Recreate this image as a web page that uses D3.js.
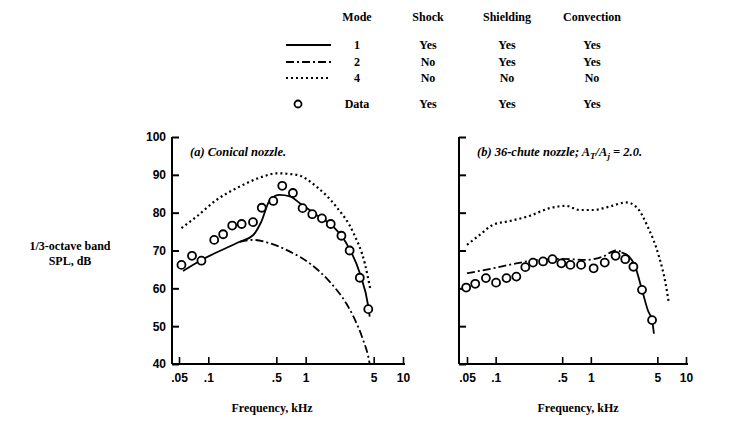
<!DOCTYPE html>
<html>
<head>
<meta charset="utf-8">
<script src="https://cdn.jsdelivr.net/npm/d3@7"></script>
<style>
  body { margin: 0; background: #fff; }
  svg { display: block; font-family: "Liberation Serif", "DejaVu Serif", serif; font-weight: bold; }
</style>
</head>
<body>
<div id="chart"></div>
<script>
// legend table
const legendHeaders = ["Mode", "Shock", "Shielding", "Convection"];
const legendModes = ["1", "2", "4", "Data"];
const shockCol = ["Yes", "No", "No", "Yes"];
const shieldingCol = ["Yes", "Yes", "No", "Yes"];
const convectionCol = ["Yes", "Yes", "No", "Yes"];

const freqTicks = [0.05, 0.1, 0.5, 1, 5, 10];
const freqTickLabels = [".05", ".1", ".5", "1", "5", "10"];
const splTicks = [40, 50, 60, 70, 80, 90, 100];

// (a) conical nozzle
const conicalDataFreq = [0.053, 0.068, 0.085, 0.115, 0.142, 0.176, 0.22, 0.288, 0.354, 0.465, 0.575, 0.74, 0.93, 1.17, 1.47, 1.81, 2.33, 2.83, 3.6, 4.4];
const conicalDataSpl = [66.2, 68.6, 67.3, 72.8, 74.3, 76.6, 77.0, 77.5, 81.3, 83.1, 87.1, 85.2, 81.2, 79.6, 78.5, 77.0, 73.9, 70.0, 62.8, 54.5];
const conicalMode1Freq = [0.055, 0.085, 0.21, 0.29, 0.35, 0.43, 0.54, 0.69, 0.87, 1.29, 1.92, 2.62, 3.6, 4.4, 4.55];
const conicalMode1Spl = [64.6, 67.5, 72.3, 74.1, 77.6, 83.4, 84.7, 84.3, 82.5, 79.4, 76.3, 71.9, 64, 55.2, 52.5];
const conicalMode2Freq = [0.21, 0.29, 0.43, 0.69, 1.1, 1.8, 2.6, 3.1, 3.9, 4.4, 4.55];
const conicalMode2Spl = [72.3, 72.8, 71.9, 69.7, 66.6, 61.5, 56.1, 52.5, 46.3, 41.9, 40];
const conicalMode4Freq = [0.053, 0.076, 0.122, 0.21, 0.37, 0.5, 0.81, 1.29, 2.06, 3.1, 4.05, 4.6];
const conicalMode4Spl = [75.9, 79.0, 83.4, 86.9, 89.6, 90.4, 90.0, 86.9, 81.6, 74.6, 66.6, 60.0];

// (b) 36-chute nozzle
const chuteDataFreq = [0.049, 0.061, 0.079, 0.101, 0.13, 0.165, 0.205, 0.247, 0.315, 0.395, 0.49, 0.61, 0.79, 1.07, 1.4, 1.82, 2.3, 2.8, 3.45, 4.4];
const chuteDataSpl = [60.2, 61.2, 62.7, 61.5, 62.7, 63.1, 65.6, 66.8, 67.1, 67.7, 66.6, 66.2, 66.2, 65.3, 66.8, 68.6, 67.7, 65.7, 59.6, 51.6];
const chuteMode1Freq = [2.1, 2.5, 2.9, 3.45, 4.0, 4.4, 4.6];
const chuteMode1Spl = [69.5, 68.5, 66, 59.6, 54, 51.6, 48];
const chuteMode2Freq = [0.05, 0.094, 0.165, 0.27, 0.5, 0.9, 1.34, 1.85, 2.1];
const chuteMode2Spl = [64.0, 65.3, 66.6, 67.5, 67.8, 67.5, 68.4, 70.0, 69.6];
const chuteMode4Freq = [0.05, 0.068, 0.094, 0.141, 0.23, 0.37, 0.55, 0.76, 1.05, 1.57, 2.35, 2.98, 3.96, 5.2, 6.1, 6.6];
const chuteMode4Spl = [71.5, 74.1, 76.8, 77.8, 79.2, 81.2, 81.8, 80.7, 80.7, 81.6, 82.7, 81.6, 76.3, 68.4, 61.3, 56.1];

const width = 734;
const height = 423;

const lineStyles = {
  mode1: null,
  mode2: "8,3,2,3",
  mode4: "2,3",
};

const svg = d3
  .select("#chart")
  .append("svg")
  .attr("width", width)
  .attr("height", height)
  .attr("viewBox", `0 0 ${width} ${height}`);

const yScale = d3.scaleLinear().domain([40, 100]).range([364, 137]);

function zip(xs, ys) {
  return xs.map((x, i) => ({ f: x, spl: ys[i] }));
}

function drawPanel(opts) {
  const x = d3.scaleLog().domain([0.05, 10]).range([opts.x05, opts.x10]);
  const g = svg.append("g");

  // spines
  g.append("line")
    .attr("x1", opts.axisX).attr("x2", opts.axisX)
    .attr("y1", yScale(100)).attr("y2", yScale(40))
    .attr("stroke", "#000").attr("stroke-width", 2);
  g.append("line")
    .attr("x1", opts.axisX).attr("x2", opts.x10 + 2)
    .attr("y1", yScale(40)).attr("y2", yScale(40))
    .attr("stroke", "#000").attr("stroke-width", 2);

  const yAxis = g.append("g")
    .attr("transform", `translate(${opts.axisX},0)`)
    .call(
      d3.axisLeft(yScale)
        .tickValues(splTicks)
        .tickSizeInner(-7)
        .tickSizeOuter(0)
        .tickPadding(6)
        .tickFormat((d) => (opts.yLabels ? d : ""))
    );
  yAxis.select(".domain").remove();
  yAxis.selectAll("line").attr("stroke-width", 2);
  yAxis.selectAll("text").attr("font-size", 12).attr("font-family", null);

  const xAxis = g.append("g")
    .attr("transform", `translate(0,${yScale(40)})`)
    .call(
      d3.axisBottom(x)
        .tickValues(freqTicks)
        .tickSizeInner(-7)
        .tickSizeOuter(0)
        .tickPadding(9)
        .tickFormat((d, i) => freqTickLabels[i])
    );
  xAxis.select(".domain").remove();
  xAxis.selectAll("line").attr("stroke-width", 1.6);
  xAxis.selectAll("text").attr("font-size", 12).attr("font-family", null);

  const line = d3.line()
    .x((d) => x(d.f))
    .y((d) => yScale(d.spl))
    .curve(d3.curveMonotoneX);

  opts.curves.forEach((c) => {
    g.append("path")
      .datum(zip(c.f, c.spl))
      .attr("fill", "none")
      .attr("stroke", "#000")
      .attr("stroke-width", c.dash === "2,3" ? 2.2 : 1.8)
      .attr("stroke-dasharray", c.dash)
      .attr("d", line);
  });

  g.append("g")
    .selectAll("circle")
    .data(zip(opts.dataF, opts.dataSpl))
    .join("circle")
    .attr("cx", (d) => x(d.f))
    .attr("cy", (d) => yScale(d.spl))
    .attr("r", 4)
    .attr("fill", "#fff")
    .attr("stroke", "#000")
    .attr("stroke-width", 1.8);

  const title = g.append("text")
    .attr("x", opts.titleX)
    .attr("y", 156)
    .attr("font-size", 12.5)
    .attr("font-style", "italic");
  opts.title(title);

  g.append("text")
    .attr("x", opts.xLabelX)
    .attr("y", 412)
    .attr("text-anchor", "middle")
    .attr("font-size", 12)
    .text("Frequency, kHz");
}

drawPanel({
  axisX: 172,
  x05: 179,
  x10: 403,
  yLabels: true,
  titleX: 190,
  xLabelX: 272,
  title: (t) => t.text("(a)  Conical nozzle."),
  dataF: conicalDataFreq,
  dataSpl: conicalDataSpl,
  curves: [
    { f: conicalMode4Freq, spl: conicalMode4Spl, dash: lineStyles.mode4 },
    { f: conicalMode2Freq, spl: conicalMode2Spl, dash: lineStyles.mode2 },
    { f: conicalMode1Freq, spl: conicalMode1Spl, dash: lineStyles.mode1 },
  ],
});

drawPanel({
  axisX: 459,
  x05: 467,
  x10: 686,
  yLabels: false,
  titleX: 477,
  xLabelX: 578,
  title: (t) => {
    t.append("tspan").text("(b)  36-chute nozzle; A");
    t.append("tspan").attr("font-size", 9).attr("dy", 3).text("T");
    t.append("tspan").attr("dy", -3).text("/A");
    t.append("tspan").attr("font-size", 9).attr("dy", 3).text("j");
    t.append("tspan").attr("dy", -3).text(" = 2.0.");
  },
  dataF: chuteDataFreq,
  dataSpl: chuteDataSpl,
  curves: [
    { f: chuteMode4Freq, spl: chuteMode4Spl, dash: lineStyles.mode4 },
    { f: chuteMode2Freq, spl: chuteMode2Spl, dash: lineStyles.mode2 },
    { f: chuteMode1Freq, spl: chuteMode1Spl, dash: lineStyles.mode1 },
  ],
});

// y axis title
const yTitle = svg.append("text")
  .attr("x", 70)
  .attr("text-anchor", "middle")
  .attr("font-size", 12);
yTitle.append("tspan").attr("x", 70).attr("y", 250).text("1/3-octave band");
yTitle.append("tspan").attr("x", 70).attr("y", 265).text("SPL, dB");

// legend
const colX = [357, 428, 507, 592];
const headerY = 21;
const rowY = [45, 62, 78, 104];
const legend = svg.append("g").attr("font-size", 12).attr("text-anchor", "middle");

legend.selectAll("text.head")
  .data(legendHeaders)
  .join("text")
  .attr("class", "head")
  .attr("x", (d, i) => colX[i])
  .attr("y", headerY)
  .text((d) => d);

const rows = legendModes.map((m, i) => [m, shockCol[i], shieldingCol[i], convectionCol[i]]);
rows.forEach((r, ri) => {
  legend.selectAll(null)
    .data(r)
    .join("text")
    .attr("x", (d, i) => colX[i])
    .attr("y", rowY[ri] + 4)
    .text((d) => d);
});

const sampleDash = [lineStyles.mode1, lineStyles.mode2, lineStyles.mode4];
sampleDash.forEach((dash, i) => {
  legend.append("line")
    .attr("x1", 286).attr("x2", 331)
    .attr("y1", rowY[i]).attr("y2", rowY[i])
    .attr("stroke", "#000")
    .attr("stroke-width", dash === "2,3" ? 2.2 : 1.8)
    .attr("stroke-dasharray", dash);
});
legend.append("circle")
  .attr("cx", 298).attr("cy", rowY[3])
  .attr("r", 3.5)
  .attr("fill", "#fff")
  .attr("stroke", "#000")
  .attr("stroke-width", 1.8);
</script>
</body>
</html>
